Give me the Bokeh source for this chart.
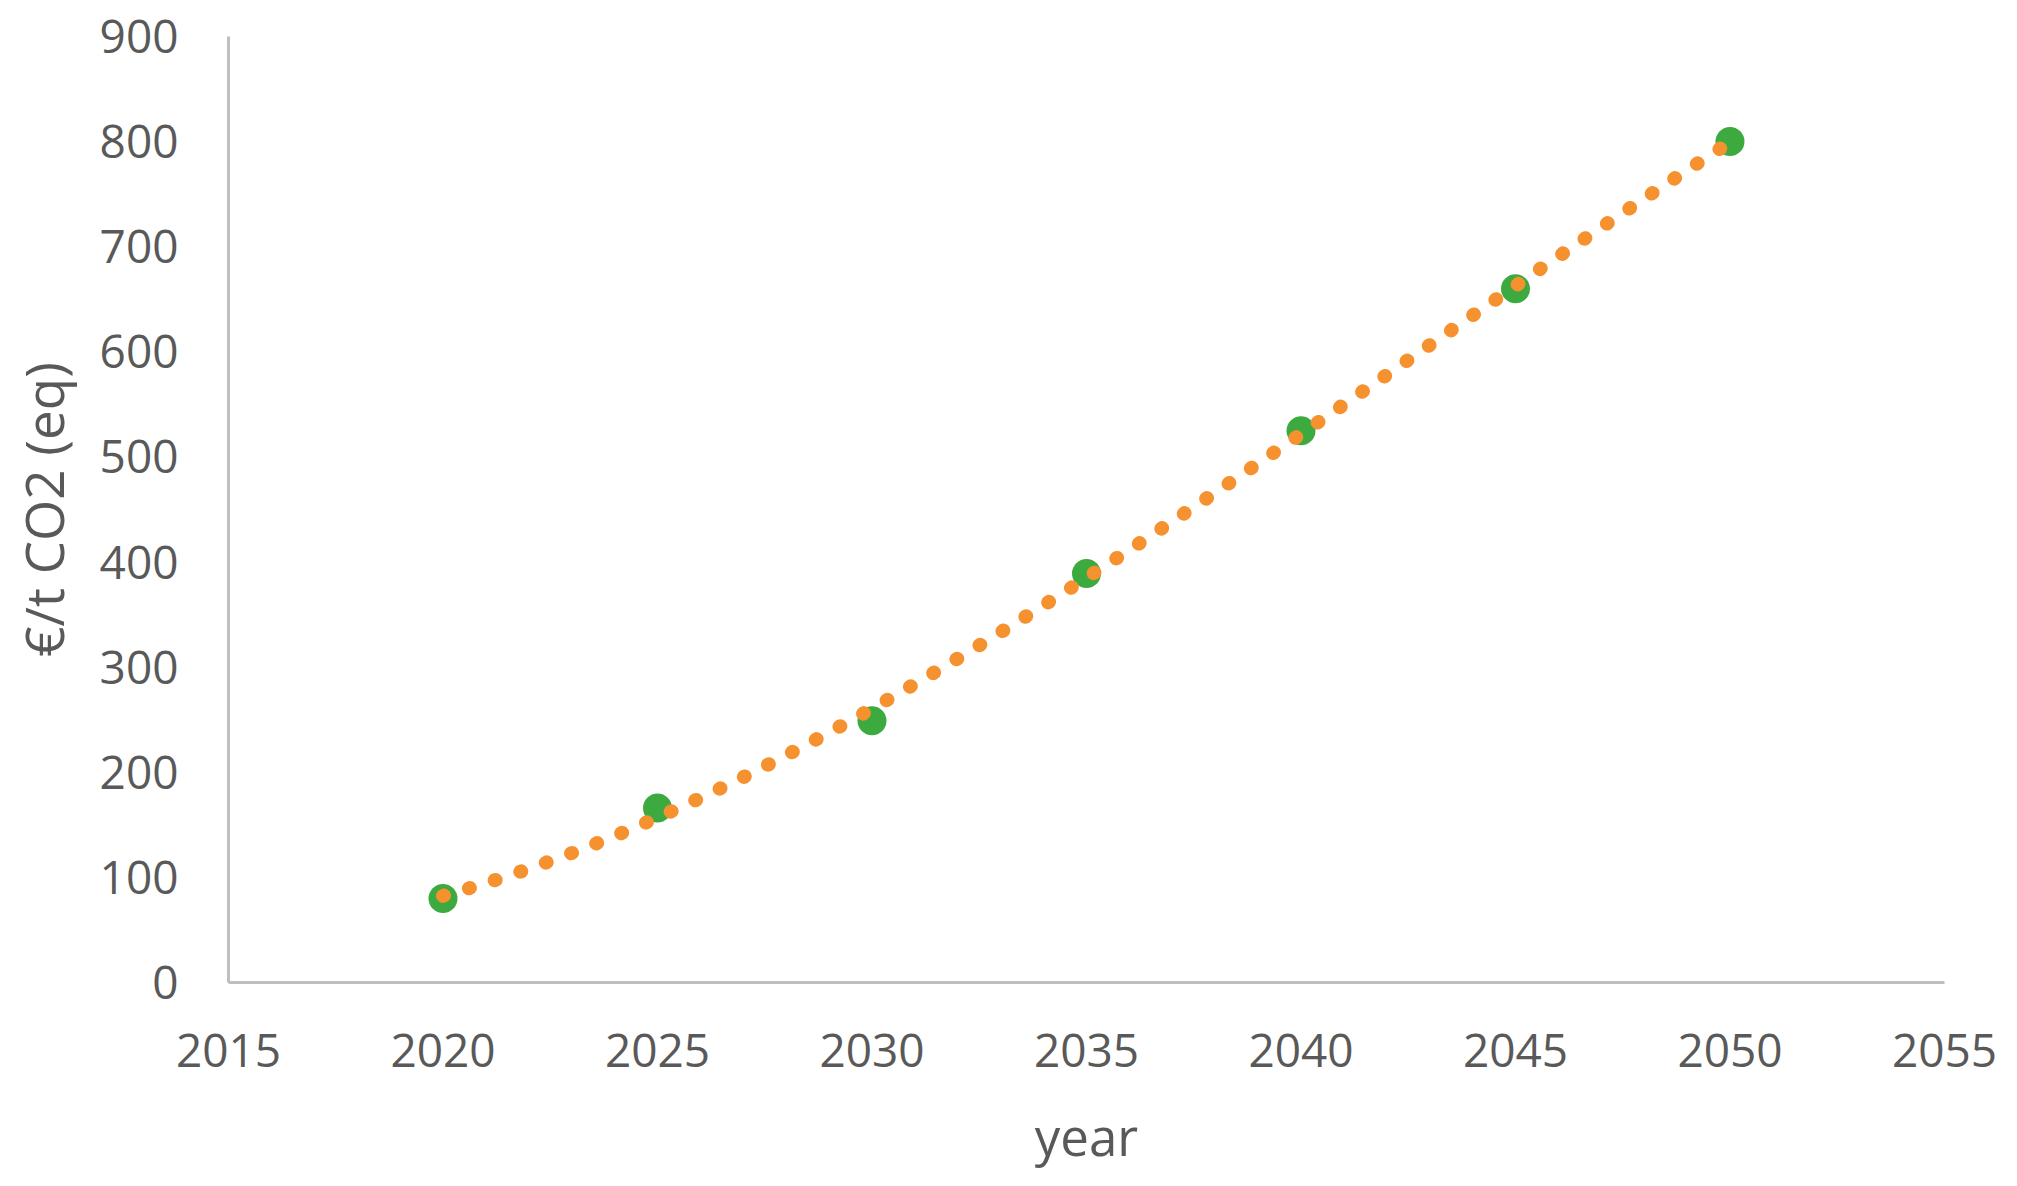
import numpy as np
from bokeh.plotting import figure
from bokeh.models import Range1d, FixedTicker
from bokeh.embed import file_html
from bokeh.resources import INLINE

years = [2020, 2025, 2030, 2035, 2040, 2045, 2050]
price = [80, 166, 249, 389, 525, 660, 800]
x_ticks = [2015, 2020, 2025, 2030, 2035, 2040, 2045, 2050, 2055]
y_ticks = [0, 100, 200, 300, 400, 500, 600, 700, 800, 900]

# polynomial (order 3) trendline fitted to the data, as in the original spreadsheet chart
coef = np.polyfit(years, price, 3)
trend_x = np.linspace(min(years), max(years), 300)
trend_y = np.polyval(coef, trend_x)

FONT = "Open Sans"
TXT = "#595959"

p = figure(width=2000, height=1173, output_backend="svg", toolbar_location=None,
           x_range=Range1d(2015, 2055), y_range=Range1d(0, 900),
           min_border_left=228, min_border_right=56, min_border_top=36, min_border_bottom=150)
p.outline_line_color = None
p.xgrid.grid_line_color = None
p.ygrid.grid_line_color = None
p.background_fill_color = "white"
p.border_fill_color = "white"

p.scatter(years, price, size=29, color="#3DAA3F", line_color=None)
p.line(trend_x, trend_y, line_color="#F5922F", line_width=14, line_cap="round", line_dash="1 26")

for ax in (p.xaxis[0], p.yaxis[0]):
    ax.axis_line_color = "#BFBFBF"
    ax.axis_line_width = 3
    ax.major_tick_line_color = None
    ax.minor_tick_line_color = None
    ax.major_tick_out = 0
    ax.major_tick_in = 0
    ax.major_label_text_font = FONT
    ax.major_label_text_font_size = "46px"
    ax.major_label_text_color = TXT
    ax.axis_label_text_font = FONT
    ax.axis_label_text_color = TXT
    ax.axis_label_text_font_style = "normal"

p.xaxis.axis_label_text_font_size = "51px"
p.yaxis.axis_label_text_font_size = "53px"
p.xaxis.ticker = FixedTicker(ticks=x_ticks)
p.yaxis.ticker = FixedTicker(ticks=y_ticks)
p.xaxis.axis_label = "year"
p.yaxis.axis_label = "€/t CO2 (eq)"
p.xaxis.major_label_standoff = 51
p.yaxis.major_label_standoff = 50
p.xaxis.axis_label_standoff = 31
p.yaxis.axis_label_standoff = 17

open("out.html", "w").write(file_html(p, INLINE))
